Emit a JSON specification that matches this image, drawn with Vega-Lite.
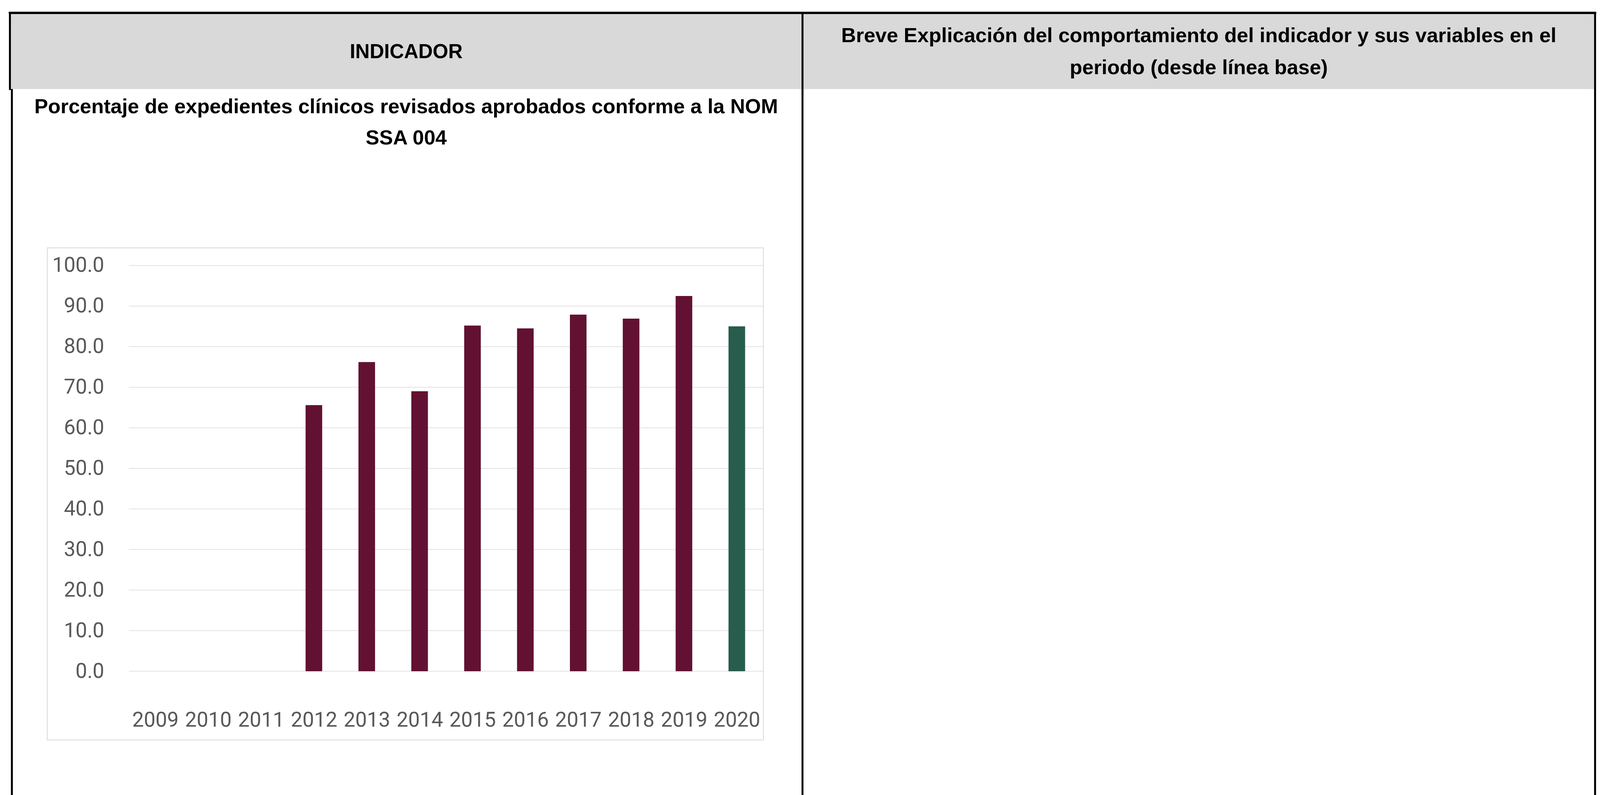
{
  "$schema": "https://vega.github.io/schema/vega-lite/v6.json",
  "padding": {"left": 20.4, "top": 28, "right": 10, "bottom": 0},
  "autosize": {"type": "pad"},
  "background": "white",
  "config": {"view": {"stroke": null}},
  "bounds": "flush",
  "spacing": 0,
  "columns": 2,
  "concat": [
    {
      "width": 2029,
      "height": 195,
      "view": {"fill": "#d9d9d9", "stroke": null},
      "layer": [
        {
          "data": {"values": [{}]},
          "mark": {"type": "text", "text": "INDICADOR", "font": "Liberation Sans", "fontWeight": "bold", "fontSize": 51, "color": "black", "align": "center", "baseline": "middle", "dy": 3},
          "encoding": {}
        },
        {
          "data": {"values": [{}]},
          "mark": {"type": "rule", "color": "black", "strokeWidth": 6, "strokeCap": "square"},
          "encoding": {"y": {"datum": 1, "type": "quantitative", "scale": {"domain": [0, 1], "nice": false}, "axis": null}}
        },
        {
          "data": {"values": [{}]},
          "mark": {"type": "rule", "color": "black", "strokeWidth": 5, "strokeCap": "square"},
          "encoding": {"x": {"datum": 0, "type": "quantitative", "scale": {"domain": [0, 1], "nice": false}, "axis": null}}
        }
      ]
    },
    {
      "width": 2029,
      "height": 195,
      "view": {"fill": "#d9d9d9", "stroke": null},
      "layer": [
        {
          "data": {"values": [{}]},
          "mark": {"type": "text", "text": ["Breve Explicación del comportamiento del indicador y sus variables en el", "periodo (desde línea base)"], "font": "Liberation Sans", "fontWeight": "bold", "fontSize": 52.4, "lineHeight": 83, "color": "black", "align": "center", "baseline": "middle", "dy": -39},
          "encoding": {}
        },
        {
          "data": {"values": [{}]},
          "mark": {"type": "rule", "color": "black", "strokeWidth": 6, "strokeCap": "square"},
          "encoding": {"y": {"datum": 1, "type": "quantitative", "scale": {"domain": [0, 1], "nice": false}, "axis": null}}
        },
        {
          "data": {"values": [{"p": 0}, {"p": 1}]},
          "mark": {"type": "rule", "color": "black", "strokeWidth": 5, "strokeCap": "square"},
          "encoding": {"x": {"field": "p", "type": "quantitative", "scale": {"domain": [0, 1], "nice": false}, "axis": null}}
        }
      ]
    },
    {
      "width": 2029,
      "height": 1810,
      "layer": [
        {
          "data": {"values": [{}]},
          "mark": {"type": "rect", "fill": "transparent", "stroke": "#d9d9d9", "strokeWidth": 2},
          "encoding": {
            "x": {"datum": 2006.957, "type": "quantitative"},
            "x2": {"datum": 2020.503},
            "y": {"datum": 104.36, "type": "quantitative"},
            "y2": {"datum": -16.94}
          }
        },
        {
          "data": {"values": [{"v": 0}, {"v": 10}, {"v": 20}, {"v": 30}, {"v": 40}, {"v": 50}, {"v": 60}, {"v": 70}, {"v": 80}, {"v": 90}, {"v": 100}]},
          "mark": {"type": "rule", "color": "#d9d9d9", "strokeWidth": 1.5},
          "encoding": {
            "y": {"field": "v", "type": "quantitative"},
            "x": {"datum": 2008.5, "type": "quantitative"},
            "x2": {"datum": 2020.5}
          }
        },
        {
          "data": {"values": [
            {"anio": 2009, "valor": null},
            {"anio": 2010, "valor": null},
            {"anio": 2011, "valor": null},
            {"anio": 2012, "valor": 65.6},
            {"anio": 2013, "valor": 76.2},
            {"anio": 2014, "valor": 69.0},
            {"anio": 2015, "valor": 85.2},
            {"anio": 2016, "valor": 84.5},
            {"anio": 2017, "valor": 87.9},
            {"anio": 2018, "valor": 86.9},
            {"anio": 2019, "valor": 92.5},
            {"anio": 2020, "valor": 85.0}
          ]},
          "mark": {"type": "bar", "width": 42.5, "orient": "vertical"},
          "encoding": {
            "x": {
              "field": "anio", "type": "quantitative",
              "scale": {"domain": [2006.2874, 2021.2054], "nice": false, "zero": false},
              "axis": {"values": [2009, 2010, 2011, 2012, 2013, 2014, 2015, 2016, 2017, 2018, 2019, 2020], "format": "d", "title": null, "grid": false, "domain": false, "ticks": false, "tickSize": 0, "labelPadding": 0, "offset": -177, "labelBaseline": "alphabetic", "labelAlign": "center", "labelFont": "Roboto", "labelFontSize": 53, "labelColor": "#595959", "labelFlush": false, "labelOverlap": false, "zindex": 1}
            },
            "y": {
              "field": "valor", "type": "quantitative",
              "scale": {"domain": [-30.70, 143.50], "nice": false, "zero": false},
              "axis": {"values": [0, 10, 20, 30, 40, 50, 60, 70, 80, 90, 100], "format": ".1f", "title": null, "grid": false, "domain": false, "ticks": false, "tickSize": 0, "labelPadding": 0, "offset": -241, "labelAlign": "right", "labelBaseline": "middle", "labelFont": "Roboto", "labelFontSize": 53, "labelColor": "#595959", "labelFlush": false, "labelOverlap": false, "zindex": 1}
            },
            "y2": {"datum": 0},
            "color": {"condition": {"test": "datum.anio === 2020", "value": "#285C4D"}, "value": "#621132"}
          }
        },
        {
          "data": {"values": [{}]},
          "mark": {"type": "text", "text": ["Porcentaje  de expedientes clínicos revisados aprobados conforme a la NOM", "SSA 004"], "font": "Liberation Sans", "fontWeight": "bold", "fontSize": 52.4, "lineHeight": 80, "color": "black", "align": "center", "baseline": "alphabetic"},
          "encoding": {"y": {"datum": 137.54, "type": "quantitative"}}
        },
        {
          "data": {"values": [{}]},
          "mark": {"type": "rule", "color": "black", "strokeWidth": 5},
          "encoding": {"x": {"datum": 2006.2874, "type": "quantitative"}}
        }
      ]
    },
    {
      "width": 2029,
      "height": 1810,
      "layer": [
        {
          "data": {"values": [{"p": 0}, {"p": 1}]},
          "mark": {"type": "rule", "color": "black", "strokeWidth": 5},
          "encoding": {"x": {"field": "p", "type": "quantitative", "scale": {"domain": [0, 1], "nice": false}, "axis": null}}
        }
      ]
    }
  ]
}
